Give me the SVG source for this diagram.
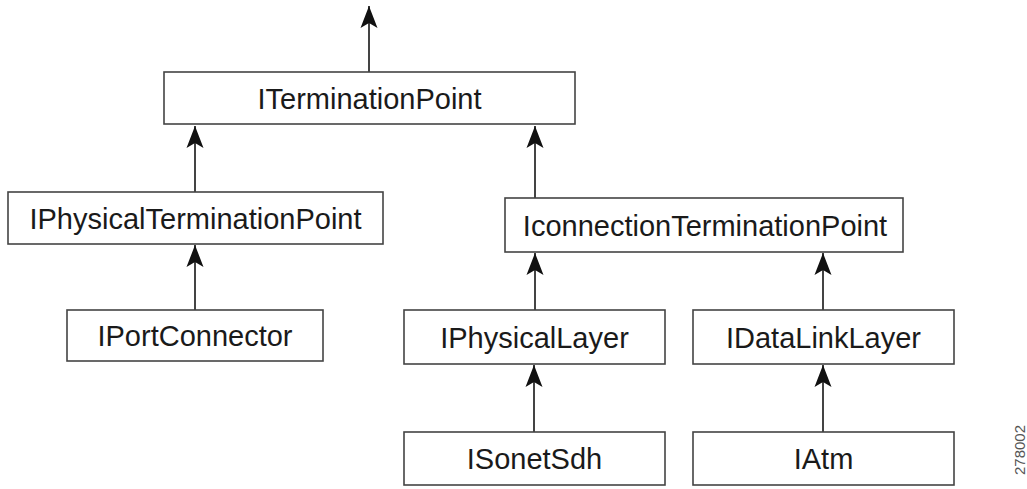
<svg xmlns="http://www.w3.org/2000/svg" width="1027" height="489" viewBox="0 0 1027 489">
  <defs>
    <marker id="arr" markerUnits="userSpaceOnUse" markerWidth="24" markerHeight="20" viewBox="0 0 24 20" refX="22" refY="10" orient="auto">
      <path d="M22,10 L0,1.5 L5,10 L0,18.5 Z" fill="#111"/>
    </marker>
  </defs>
  <style>
    .box rect { fill: #fff; stroke: #444; stroke-width: 1.6; }
    .box text { font-family: "Liberation Sans", Arial, sans-serif; font-size: 29px; fill: #1a1a1a; text-anchor: middle; }
    .conn line { stroke: #444; stroke-width: 2; marker-end: url(#arr); }
  </style>
  <rect width="1027" height="489" fill="#fff"/>
  <g id="connectors" class="conn">
    <line x1="369" y1="72" x2="369" y2="6"/>
    <line x1="195" y1="192" x2="195" y2="126"/>
    <line x1="535" y1="198" x2="535" y2="126"/>
    <line x1="195" y1="310" x2="195" y2="245"/>
    <line x1="535" y1="310" x2="535" y2="253"/>
    <line x1="823" y1="310" x2="823" y2="253"/>
    <line x1="534" y1="432" x2="534" y2="365"/>
    <line x1="823" y1="432" x2="823" y2="365"/>
  </g>
  <g id="ITerminationPoint" class="box">
    <rect x="164" y="72" width="411" height="52"/>
    <text x="369.5" y="108.5">ITerminationPoint</text>
  </g>
  <g id="IPhysicalTerminationPoint" class="box">
    <rect x="8" y="192" width="375" height="52"/>
    <text x="195.5" y="228.5">IPhysicalTerminationPoint</text>
  </g>
  <g id="IconnectionTerminationPoint" class="box">
    <rect x="505" y="198" width="398" height="54"/>
    <text x="705" y="235.5">IconnectionTerminationPoint</text>
  </g>
  <g id="IPortConnector" class="box">
    <rect x="67" y="310" width="256" height="51"/>
    <text x="195" y="346">IPortConnector</text>
  </g>
  <g id="IPhysicalLayer" class="box">
    <rect x="404" y="310" width="261" height="54"/>
    <text x="534.5" y="347.5">IPhysicalLayer</text>
  </g>
  <g id="IDataLinkLayer" class="box">
    <rect x="693" y="310" width="261" height="54"/>
    <text x="823.5" y="347.5">IDataLinkLayer</text>
  </g>
  <g id="ISonetSdh" class="box">
    <rect x="404" y="432" width="261" height="53"/>
    <text x="534.5" y="469">ISonetSdh</text>
  </g>
  <g id="IAtm" class="box">
    <rect x="693" y="432" width="261" height="53"/>
    <text x="823.5" y="469">IAtm</text>
  </g>
  <text x="0" y="0" transform="translate(1025,450) rotate(-90)" font-family="Liberation Sans, Arial, sans-serif" font-size="15" fill="#555" text-anchor="middle">278002</text>
</svg>
